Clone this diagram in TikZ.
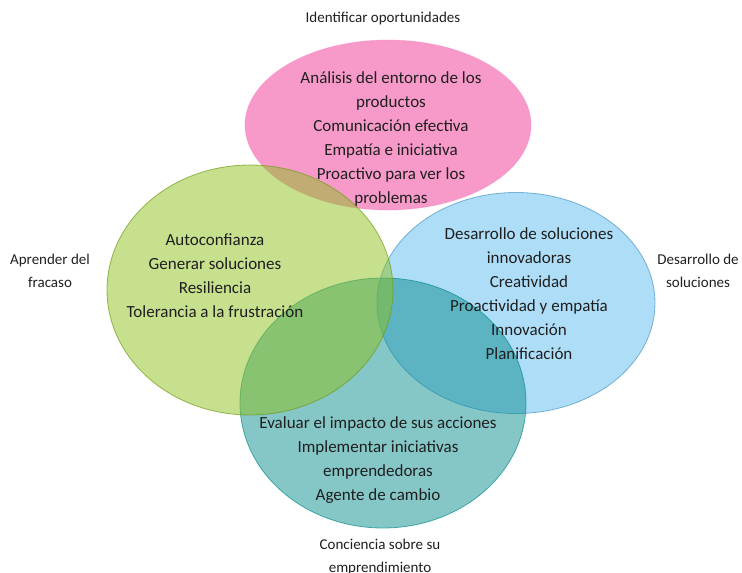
\documentclass[tikz,border=0pt]{standalone}
\usepackage{fontspec}
\setmainfont{Carlito}
\usetikzlibrary{shapes.geometric,positioning}

\definecolor{pinkset}{HTML}{EF3595}
\definecolor{greenset}{HTML}{8DC11D}
\definecolor{blueset}{HTML}{5DBBF1}
\definecolor{tealset}{HTML}{0B8D8F}

\begin{document}
\begin{tikzpicture}[x=1pt,y=-1pt,
	set/.style={ellipse,inner sep=0pt,fill opacity=0.5,draw opacity=0.7,line width=0.8pt},
	items/.style={align=center,font=\fontsize{17}{24}\selectfont,text=black!88},
	title/.style={align=center,font=\fontsize{15}{23}\selectfont,text=black!88}]
	\useasboundingbox (0,0) rectangle (742,573);

	% the four sets
	\node[set,fill=pinkset,draw=pinkset!60,draw opacity=0.4,minimum width=286pt,minimum height=170pt](ident) at (388,125){};
	\node[set,fill=blueset,draw=blueset!80!black,minimum width=278pt,minimum height=221pt](desa) at (516,303){};
	\node[set,fill=tealset,draw=tealset,minimum width=286pt,minimum height=250pt](conc) at (383,403){};
	\node[set,fill=greenset,draw=greenset!80!black,minimum width=286pt,minimum height=250pt](apre) at (250,290){};

	% contents
	\node[items](ident_t) at (391,139){Análisis del entorno de los\\productos\\Comunicación efectiva\\Empatía e iniciativa\\Proactivo para ver los\\problemas};
	\node[items](apre_t) at (215,276){Autoconfianza\\Generar soluciones\\Resiliencia\\Tolerancia a la frustración};
	\node[items](desa_t) at (529,294){Desarrollo de soluciones\\innovadoras\\Creatividad\\Proactividad y empatía\\Innovación\\Planificación};
	\node[items](conc_t) at (378,460){Evaluar el impacto de sus acciones\\Implementar iniciativas\\emprendedoras\\Agente de cambio};

	% titles
	\node[title](ident_l) at (383,18){Identificar oportunidades};
	\node[title](apre_l) at (50,271){Aprender del\\fracaso};
	\node[title](desa_l) at (698,271){Desarrollo de\\soluciones};
	\node[title](conc_l) at (380,557){Conciencia sobre su\\emprendimiento};
\end{tikzpicture}
\end{document}
